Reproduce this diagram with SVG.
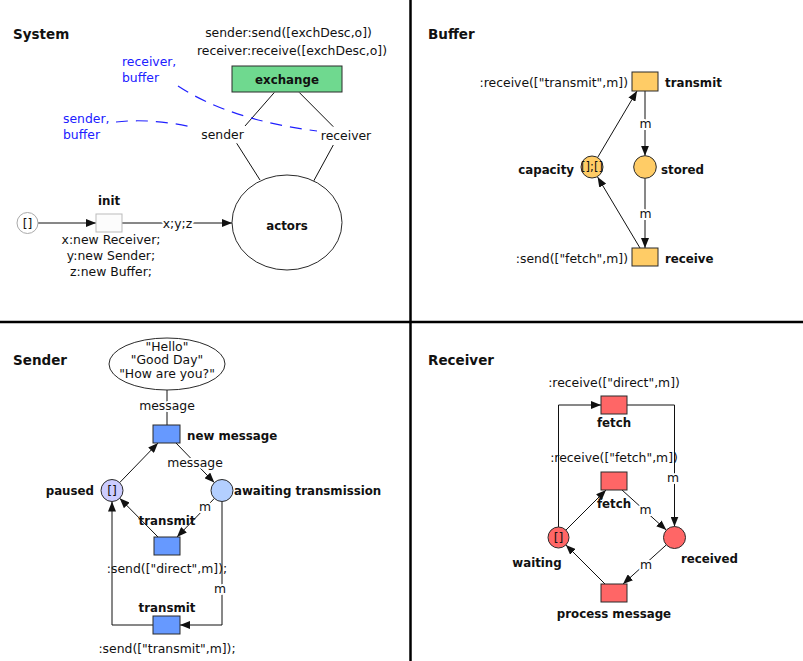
<svg xmlns="http://www.w3.org/2000/svg" width="803" height="661" viewBox="0 0 803 661">
<style>
text{font-family:"DejaVu Sans","Liberation Sans",sans-serif;font-size:12.4px;fill:#111}
.t{font-size:13.5px;font-weight:bold}
.b{font-size:11.8px;font-weight:bold}
.m{text-anchor:middle}
.e{text-anchor:end}
.h{stroke:#fff;stroke-width:4px;paint-order:stroke;stroke-linejoin:round}
.blue{fill:#2020ff}
.ln{fill:none;stroke:#111;stroke-width:1}
.arr{fill:none;stroke:#111;stroke-width:1;marker-end:url(#ah)}
.dash{fill:none;stroke:#2020ff;stroke-width:1.2;stroke-dasharray:12 8}
.node{stroke:#2a2a2a;stroke-width:1}
.div{stroke:#000;stroke-width:2.5}
</style>
<defs>
<marker id="ah" viewBox="0 0 10 8" refX="10" refY="4" markerWidth="10" markerHeight="8" markerUnits="userSpaceOnUse" orient="auto">
<path d="M0,0 L10,4 L0,8 z" fill="#111"/>
</marker>
</defs>
<rect width="803" height="661" fill="#fff"/>
<g id="dividers">
<line class="div" x1="410.5" y1="0" x2="410.5" y2="661"/>
<line class="div" x1="0" y1="322" x2="803" y2="322"/>
</g>
<g id="titles">
<text class="t" x="13" y="38.5">System</text>
<text class="t" x="428" y="38.5">Buffer</text>
<text class="t" x="13" y="365">Sender</text>
<text class="t" x="428" y="365">Receiver</text>
</g>

<g id="connectors">
<!-- System -->
<line class="ln" x1="274.3" y1="92.5" x2="245" y2="126"/>
<line class="ln" x1="299.3" y1="92.5" x2="333.3" y2="126.7"/>
<line class="ln" x1="236.7" y1="143.3" x2="260" y2="180"/>
<line class="ln" x1="333.3" y1="145" x2="313.3" y2="181.7"/>
<path class="dash" d="M178,86 Q230,120 317,131"/>
<path class="dash" d="M116,122 Q150,118 192,127"/>
<line class="arr" x1="38" y1="223" x2="96" y2="223"/>
<line class="arr" x1="122" y1="223" x2="232" y2="223"/>
<text class="m h" x="177.5" y="228">x;y;z</text>
<!-- Buffer -->
<line class="arr" x1="645" y1="91" x2="645" y2="155.7"/>
<text class="m h" x="645.5" y="128">m</text>
<line class="arr" x1="645" y1="178.3" x2="645" y2="248"/>
<text class="m h" x="645.5" y="218">m</text>
<line class="arr" x1="597.6" y1="157.5" x2="637" y2="91"/>
<line class="arr" x1="640" y1="248" x2="597.6" y2="177"/>
<!-- Sender -->
<line class="ln" x1="167" y1="389" x2="167" y2="425"/>
<text class="m h" x="167" y="410">message</text>
<line class="arr" x1="119.7" y1="482.6" x2="158" y2="443"/>
<line class="arr" x1="176" y1="443" x2="214.3" y2="482.6"/>
<text class="m h" x="195" y="467">message</text>
<line class="arr" x1="158" y1="537" x2="119.7" y2="498.3"/>
<line class="arr" x1="214.4" y1="498.4" x2="177" y2="537"/>
<text class="m h" x="205" y="511">m</text>
<path class="arr" d="M222,501.5 L222,625 L180,625"/>
<text class="m h" x="220" y="593">m</text>
<path class="arr" d="M153,625 L112,625 L112,501.5"/>
<!-- Receiver -->
<path class="arr" d="M558.5,527 L558.5,405 L601,405"/>
<path class="arr" d="M627,405 L674.5,405 L674.5,526.5"/>
<text class="m h" x="673" y="482">m</text>
<line class="arr" x1="565.9" y1="530.1" x2="606" y2="490"/>
<line class="arr" x1="622" y1="490" x2="666.3" y2="530.1"/>
<text class="m h" x="645.5" y="514">m</text>
<line class="arr" x1="666.3" y1="544.9" x2="623" y2="584"/>
<text class="m h" x="646" y="569">m</text>
<line class="arr" x1="605" y1="584" x2="565.9" y2="544.9"/>
</g>

<!-- System nodes -->
<g id="exchange">
<text class="m" x="288.5" y="37">sender:send([exchDesc,o])</text>
<text class="m" x="292" y="55">receiver:receive([exchDesc,o])</text>
<rect class="node" x="232" y="66" width="110" height="26" fill="#6fd98f"/>
<text class="b m" x="287" y="84">exchange</text>
</g>
<g id="sender-label"><text class="m" x="222.5" y="139">sender</text></g>
<g id="receiver-label"><text class="m" x="346" y="140">receiver</text></g>
<g id="note-receiver-buffer">
<text class="blue" x="122" y="66">receiver,</text>
<text class="blue" x="122" y="82">buffer</text>
</g>
<g id="note-sender-buffer">
<text class="blue" x="63" y="122.5">sender,</text>
<text class="blue" x="63" y="138.5">buffer</text>
</g>
<g id="init-place">
<circle cx="27.5" cy="223" r="10.5" fill="#fff" stroke="#aaa" stroke-width="1"/>
<text class="m" x="27.5" y="227.5">[]</text>
</g>
<g id="init">
<text class="b m" x="109" y="205">init</text>
<rect x="96" y="214" width="26" height="18" fill="#fcfcfc" stroke="#bbb" stroke-width="1"/>
<text class="m" x="111" y="244">x:new Receiver;</text>
<text class="m" x="111" y="260">y:new Sender;</text>
<text class="m" x="111" y="276">z:new Buffer;</text>
</g>
<g id="actors">
<ellipse class="node" cx="287" cy="222.5" rx="55" ry="47.5" fill="#fff"/>
<text class="b m" x="287" y="229.5">actors</text>
</g>

<!-- Buffer nodes -->
<g id="buffer-transmit">
<rect class="node" x="632" y="72" width="26" height="19" fill="#ffcc66"/>
<text class="e" x="628" y="87">:receive(["transmit",m])</text>
<text class="b" x="665" y="87">transmit</text>
</g>
<g id="capacity">
<circle class="node" cx="592" cy="167" r="11" fill="#ffcc66"/>
<text class="m" x="592" y="171.3" style="font-size:11.5px">[];[]</text>
<text class="b e" x="574" y="173.5">capacity</text>
</g>
<g id="stored">
<circle class="node" cx="645" cy="167" r="11.3" fill="#ffcc66"/>
<text class="b" x="661" y="173.5">stored</text>
</g>
<g id="buffer-receive">
<rect class="node" x="632" y="248" width="26" height="18" fill="#ffcc66"/>
<text class="e" x="628" y="262.7">:send(["fetch",m])</text>
<text class="b" x="665" y="262.7">receive</text>
</g>

<!-- Sender nodes -->
<g id="messages">
<ellipse class="node" cx="167" cy="364" rx="58" ry="26" fill="#fff"/>
<text class="m" x="167" y="350.5">"Hello"</text>
<text class="m" x="167" y="364">"Good Day"</text>
<text class="m" x="167" y="377.5">"How are you?"</text>
</g>
<g id="new-message">
<rect class="node" x="153" y="425" width="27" height="18" fill="#6699ff"/>
<text class="b" x="187" y="440">new message</text>
</g>
<g id="paused">
<circle class="node" cx="112" cy="490.5" r="11" fill="#ccccff"/>
<text class="m" x="112" y="495">[]</text>
<text class="b e" x="94" y="495">paused</text>
</g>
<g id="awaiting">
<circle class="node" cx="222" cy="490.5" r="11" fill="#b3cfff"/>
<text class="b" x="234" y="495">awaiting transmission</text>
</g>
<g id="transmit-direct">
<text class="b m" x="167" y="525">transmit</text>
<rect class="node" x="154" y="537" width="26" height="18" fill="#6699ff"/>
<text class="m" x="167" y="573">:send(["direct",m]);</text>
</g>
<g id="transmit-buffer">
<text class="b m" x="167" y="612">transmit</text>
<rect class="node" x="153" y="616" width="27" height="18" fill="#6699ff"/>
<text class="m" x="167" y="653">:send(["transmit",m]);</text>
</g>

<!-- Receiver nodes -->
<g id="fetch-direct">
<text class="m" x="614" y="387">:receive(["direct",m])</text>
<rect class="node" x="601" y="396" width="26" height="18" fill="#ff6666"/>
<text class="b m" x="614" y="427">fetch</text>
</g>
<g id="fetch-buffer">
<text class="m" x="614" y="462">:receive(["fetch",m])</text>
<rect class="node" x="601" y="472" width="26" height="18" fill="#ff6666"/>
<text class="b m" x="614" y="508">fetch</text>
</g>
<g id="waiting">
<circle class="node" cx="558.5" cy="537.5" r="10.5" fill="#ff6666"/>
<text class="m" x="558.5" y="542">[]</text>
<text class="b m" x="537" y="567">waiting</text>
</g>
<g id="received">
<circle class="node" cx="674.5" cy="537.5" r="11" fill="#ff6666"/>
<text class="b" x="681" y="563">received</text>
</g>
<g id="process-message">
<rect class="node" x="601" y="584" width="26" height="18" fill="#ff6666"/>
<text class="b m" x="614" y="618">process message</text>
</g>
</svg>
